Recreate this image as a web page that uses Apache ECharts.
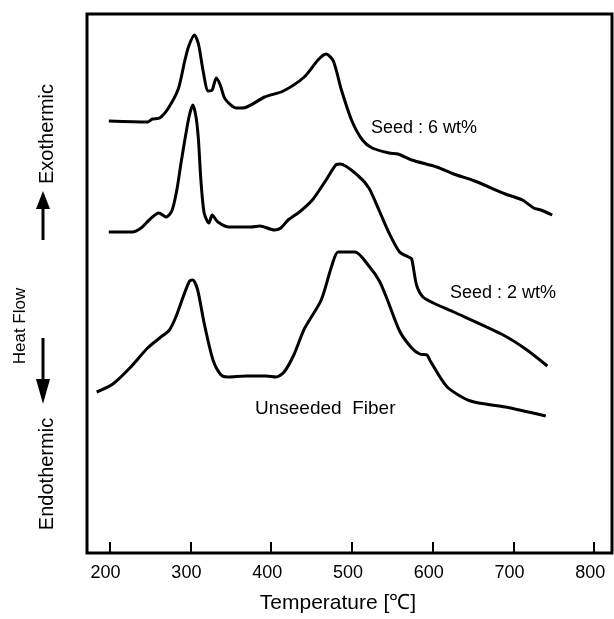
<!DOCTYPE html>
<html>
<head>
<meta charset="utf-8">
<script src="https://cdn.jsdelivr.net/npm/echarts@6/dist/echarts.min.js"></script>
<style>
  html, body { margin: 0; padding: 0; background: #fff; }
  #chart { width: 614px; height: 619px; }
</style>
</head>
<body>
<div id="chart"></div>
<script>
// temperature ticks
const tempTicks = [200, 300, 400, 500, 600, 700, 800];

// Seed : 6 wt%
const seed6T = [199, 247, 253, 262, 272, 285, 293, 298, 305, 310, 316, 322, 327, 332, 337, 343, 357, 365, 392, 415, 441, 458, 468, 477, 487, 500, 513, 525, 546, 557, 574, 605, 626, 652, 690, 711, 725, 734, 748];
const seed6V = [432, 431, 434, 435, 444, 464, 492, 507, 518, 509, 481, 462, 463, 475, 468, 454, 445, 445, 456, 462, 476, 493, 499, 492, 463, 432, 413, 405, 400, 399, 393, 386, 379, 372, 359, 353, 345, 343, 338];

// Seed : 2 wt%
const seed2T = [199, 228, 239, 249, 261, 270, 277, 283, 289, 298, 303, 307, 310, 313, 317, 323, 327, 334, 348, 375, 386, 404, 412, 421, 435, 451, 468, 480, 486, 508, 521, 534, 546, 559, 570, 574, 580, 588, 601, 626, 685, 715, 742];
const seed2V = [321, 321, 325, 333, 340, 336, 342, 362, 393, 435, 448, 436, 413, 373, 340, 330, 338, 331, 326, 326, 327, 323, 325, 333, 341, 353, 373, 388, 389, 377, 365, 342, 320, 301, 296, 294, 268, 256, 250, 241, 219, 204, 187];

// Unseeded Fiber
const unseedT = [184, 204, 225, 247, 262, 274, 282, 291, 299, 303, 309, 317, 328, 338, 346, 369, 394, 406, 416, 428, 441, 462, 475, 483, 504, 521, 534, 544, 559, 574, 584, 593, 597, 618, 647, 690, 740];
const unseedV = [161, 169, 185, 205, 215, 223, 236, 256, 272, 273, 263, 230, 193, 178, 176, 177, 177, 176, 181, 198, 224, 253, 287, 301, 301, 287, 272, 253, 222, 205, 199, 198, 192, 166, 152, 146, 137];

function zip(t, v) {
  return t.map((x, i) => [x, v[i]]);
}

const chart = echarts.init(document.getElementById("chart"));
const font = "Liberation Sans, Arial, sans-serif";

function curve(name, t, v) {
  return {
    name: name,
    type: "line",
    data: zip(t, v),
    smooth: 0.25,
    showSymbol: false,
    lineStyle: { color: "#000", width: 3 },
  };
}

const option = {
  animation: false,
  backgroundColor: "#fff",
  grid: {
    left: 87,
    right: 2,
    top: 14,
    bottom: 66,
    show: true,
    borderColor: "#000",
    borderWidth: 3,
  },
  xAxis: {
    type: "value",
    min: 172,
    max: 822,
    axisLine: { show: false },
    splitLine: { show: false },
    axisTick: {
      inside: true,
      length: 11,
      customValues: tempTicks,
      lineStyle: { color: "#000", width: 2 },
    },
    axisLabel: {
      customValues: tempTicks,
      margin: 11,
      color: "#000",
      fontSize: 18,
      fontFamily: font,
      padding: [0, 8, 0, 0],
    },
  },
  yAxis: {
    type: "value",
    min: 0,
    max: 539,
    axisLine: { show: false },
    axisTick: { show: false },
    axisLabel: { show: false },
    splitLine: { show: false },
  },
  series: [
    curve("Seed : 6 wt%", seed6T, seed6V),
    curve("Seed : 2 wt%", seed2T, seed2V),
    curve("Unseeded Fiber", unseedT, unseedV),
  ],
  graphic: [
    { type: "text", left: 371, top: 119, style: { text: "Seed : 6 wt%", fontSize: 18, fontFamily: font, fill: "#000" } },
    { type: "text", left: 450, top: 284, style: { text: "Seed : 2 wt%", fontSize: 18, fontFamily: font, fill: "#000" } },
    { type: "text", left: 255, top: 399, style: { text: "Unseeded  Fiber", fontSize: 19, fontFamily: font, fill: "#000" } },
    {
      type: "text", x: 338, y: 603,
      style: { text: "Temperature [℃]", fontSize: 21, fontFamily: font, fill: "#000", align: "center", verticalAlign: "middle" },
    },
    {
      type: "text", x: 20, y: 326, rotation: Math.PI / 2,
      style: { text: "Heat Flow", fontSize: 17, fontFamily: font, fill: "#000", align: "center", verticalAlign: "middle" },
    },
    {
      type: "text", x: 47, y: 134, rotation: Math.PI / 2,
      style: { text: "Exothermic", fontSize: 20, fontFamily: font, fill: "#000", align: "center", verticalAlign: "middle" },
    },
    {
      type: "text", x: 47, y: 474, rotation: Math.PI / 2,
      style: { text: "Endothermic", fontSize: 20, fontFamily: font, fill: "#000", align: "center", verticalAlign: "middle" },
    },
    // up arrow
    { type: "line", shape: { x1: 43, y1: 206, x2: 43, y2: 240 }, style: { stroke: "#000", lineWidth: 3 } },
    { type: "polygon", shape: { points: [[43, 191], [36, 209], [50, 209]] }, style: { fill: "#000" } },
    // down arrow
    { type: "line", shape: { x1: 43, y1: 338, x2: 43, y2: 382 }, style: { stroke: "#000", lineWidth: 3 } },
    { type: "polygon", shape: { points: [[43, 404], [36, 379], [50, 379]] }, style: { fill: "#000" } },
  ],
};

chart.setOption(option);
</script>
</body>
</html>
